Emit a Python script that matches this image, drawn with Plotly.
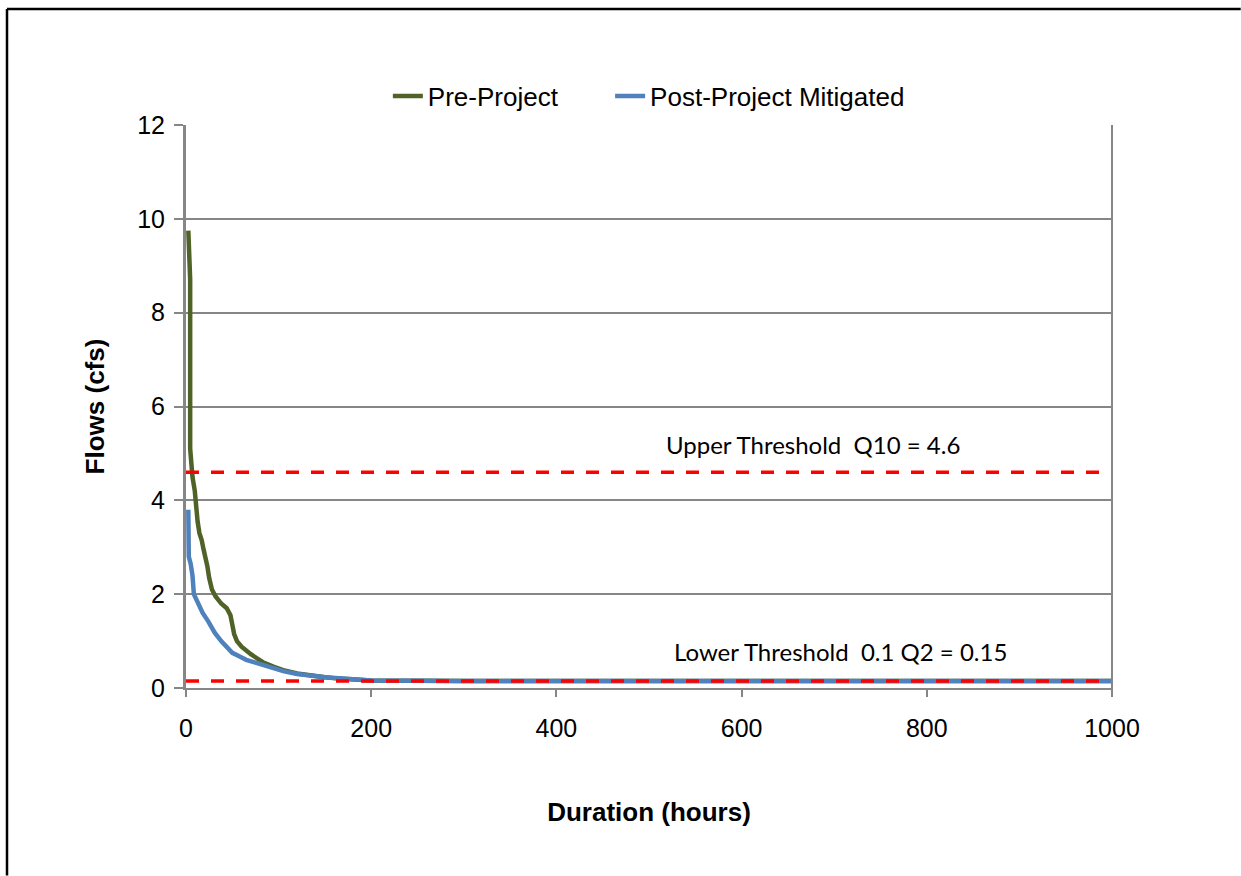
import plotly.graph_objects as go

# Flow-duration curves (hours exceeded vs. flow in cfs)
pre_hours = [2.5, 3.5, 4.5, 4.5, 5.5, 7, 9.5, 10.5, 12.5, 14.5, 17, 19, 21, 23, 25, 28, 32, 38,
             44, 48, 50, 52, 55, 60, 70, 83, 95, 105, 120, 135, 150, 165, 185, 200, 300, 1000]
pre_flow = [9.75, 9.2, 8.7, 5.1, 4.7, 4.5, 4.2, 3.85, 3.55, 3.3, 3.15, 2.95, 2.8, 2.6, 2.35, 2.1, 1.95, 1.8,
            1.7, 1.55, 1.35, 1.15, 1.0, 0.88, 0.72, 0.55, 0.45, 0.38, 0.31, 0.26, 0.23, 0.2, 0.17, 0.16, 0.15, 0.15]

post_hours = [2.5, 3, 3, 5, 7, 8.5, 12, 18, 24, 31, 38, 45, 50, 58, 65, 75, 85, 95, 105,
              120, 135, 150, 165, 185, 200, 300, 1000]
post_flow = [3.8, 3.5, 2.8, 2.65, 2.4, 2.0, 1.85, 1.6, 1.42, 1.18, 1.0, 0.85, 0.75, 0.67, 0.6, 0.54, 0.48,
             0.42, 0.36, 0.3, 0.26, 0.23, 0.21, 0.18, 0.16, 0.15, 0.15]

# Flow-control thresholds (cfs)
upper_threshold = 4.6
lower_threshold = 0.15
threshold_span = [0, 1000]

y_ticks = [0, 2, 4, 6, 8, 10, 12]
x_ticks = [0, 200, 400, 600, 800, 1000]

GRID = "#868686"
ARIAL = "Liberation Sans, Arial"
TICK_FONT = dict(family=ARIAL, size=25, color="black")
TITLE_FONT = dict(family=ARIAL, size=26, color="black")
LEGEND_FONT = dict(family=ARIAL, size=26, color="black")

fig = go.Figure()
fig.add_trace(go.Scatter(x=pre_hours, y=pre_flow, mode="lines", name="Pre-Project",
                         line=dict(color="#4F6228", width=4.5), legend="legend"))
fig.add_trace(go.Scatter(x=post_hours, y=post_flow, mode="lines", name="Post-Project Mitigated",
                         line=dict(color="#4F81BD", width=4.5), legend="legend2"))
for level in (upper_threshold, lower_threshold):
    fig.add_trace(go.Scatter(x=threshold_span, y=[level, level], mode="lines", showlegend=False,
                             line=dict(color="#FF0000", width=3.5, dash="13px,12px"), hoverinfo="skip"))

fig.add_annotation(x=677, y=5.2, xref="x", yref="y", showarrow=False,
                   text="Upper Threshold\u00a0\u00a0Q10 = 4.6",
                   font=dict(family="Lato", size=24, color="black"))
fig.add_annotation(x=707, y=0.77, xref="x", yref="y", showarrow=False,
                   text="Lower Threshold\u00a0\u00a00.1 Q2 = 0.15",
                   font=dict(family="Lato", size=24, color="black"))

# Right-hand edge of the plot area
fig.add_shape(type="line", xref="paper", yref="paper", x0=1, x1=1, y0=-0.012, y1=1,
              line=dict(color=GRID, width=2))
# Outer chart frame (top and left edges, running off the page)
fig.add_shape(type="line", xref="paper", yref="paper", x0=-0.1933, x1=1.139, y0=1.206, y1=1.206,
              line=dict(color="black", width=2.5), layer="above")
fig.add_shape(type="line", xref="paper", yref="paper", x0=-0.1933, x1=-0.1933, y0=-0.333, y1=1.206,
              line=dict(color="black", width=2.5), layer="above")

legend_common = dict(orientation="h", y=1.0515, yanchor="middle", xanchor="left",
                     font=LEGEND_FONT, bgcolor="rgba(0,0,0,0)", borderwidth=0)

fig.update_layout(
    width=1241, height=876,
    margin=dict(l=186, r=129, t=125, b=188),
    paper_bgcolor="white", plot_bgcolor="white",
    showlegend=True,
    legend=dict(x=0.218, **legend_common),
    legend2=dict(x=0.458, **legend_common),
    xaxis=dict(range=[0, 1000], tickvals=x_ticks, ticks="outside", ticklen=7, tickwidth=2,
               tickcolor=GRID, showline=True, linecolor=GRID, linewidth=2, showgrid=False,
               zeroline=False, tickfont=TICK_FONT, ticklabelstandoff=10,
               title=dict(text="<b>Duration (hours)</b>", standoff=62, font=TITLE_FONT)),
    yaxis=dict(range=[0, 12], tickvals=y_ticks, ticks="outside", ticklen=9, tickwidth=2,
               tickcolor=GRID, showline=True, linecolor=GRID, linewidth=3, showgrid=True,
               gridcolor=GRID, gridwidth=2, zeroline=False, tickfont=TICK_FONT,
               ticklabelstandoff=4,
               title=dict(text="<b>Flows (cfs)</b>", standoff=26, font=TITLE_FONT)),
)

fig.write_html("out.html")
